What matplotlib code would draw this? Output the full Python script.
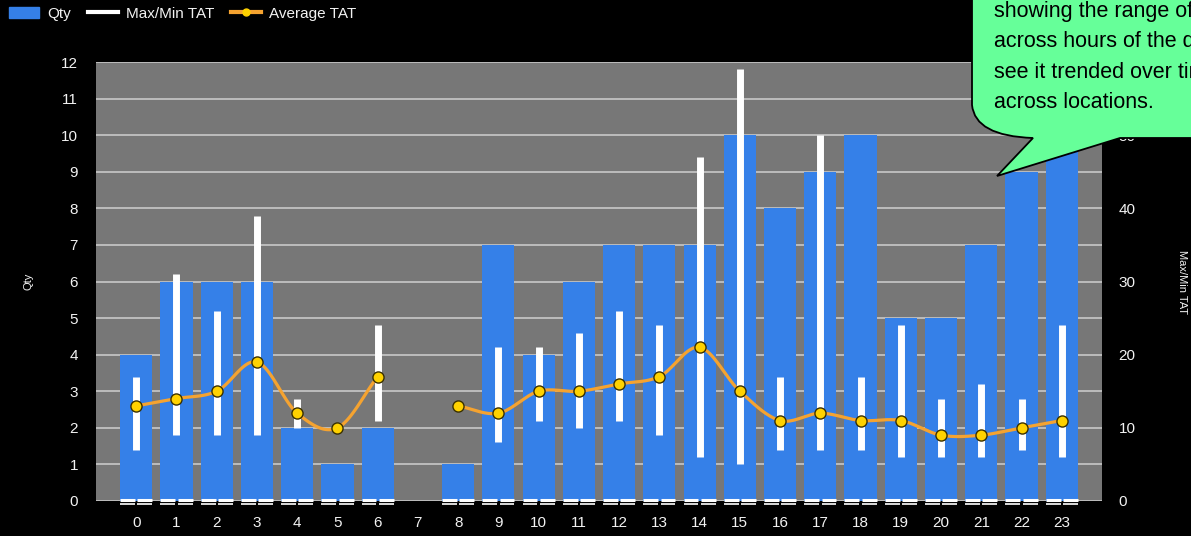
import numpy as np
import matplotlib.pyplot as plt
from matplotlib.path import Path
from matplotlib.patches import PathPatch, Patch
from matplotlib.lines import Line2D
from matplotlib.transforms import offset_copy

plt.rcParams['font.family'] = ['Liberation Sans', 'DejaVu Sans']

# datos
hours = list(range(24))
qty = [4, 6, 6, 6, 2, 1, 2, 0, 1, 7, 4, 6, 7, 7, 7, 10, 8, 9, 10, 5, 5, 7, 9, 10]
tat_max = [17, 31, 26, 39, 14, np.nan, 24, np.nan, np.nan, 21, 21, 23, 26, 24, 47, 59,
           17, 50, 17, 24, 14, 16, 14, 24]
tat_min = [7, 9, 9, 9, 10, np.nan, 11, np.nan, np.nan, 8, 11, 10, 11, 9, 6, 5,
           7, 7, 7, 6, 6, 6, 7, 6]
tat_avg = [13, 14, 15, 19, 12, 10, 17, np.nan, 13, 12, 15, 15, 16, 17, 21, 15,
           11, 12, 11, 11, 9, 9, 10, 11]
callout_lines = ["showing the range of TAT", "across hours of the day, and",
                 "see it trended over time", "across locations."]

W, H = 1191, 536
BLUE = '#3580E8'
ORANGE = '#F5A330'
TXT = '#F2F2F2'


def catmull_rom(xs, ys, n=20):
    # suavizado del trazo entre puntos consecutivos
    xs, ys = np.asarray(xs, float), np.asarray(ys, float)
    px = np.concatenate([[2 * xs[0] - xs[1]], xs, [2 * xs[-1] - xs[-2]]])
    py = np.concatenate([[2 * ys[0] - ys[1]], ys, [2 * ys[-1] - ys[-2]]])
    ox, oy = [], []
    for i in range(1, len(px) - 2):
        t = np.linspace(0, 1, n, endpoint=False)
        for p, o in ((px, ox), (py, oy)):
            p0, p1, p2, p3 = p[i - 1], p[i], p[i + 1], p[i + 2]
            o.extend(0.5 * (2 * p1 + (-p0 + p2) * t + (2 * p0 - 5 * p1 + 4 * p2 - p3) * t ** 2
                            + (-p0 + 3 * p1 - 3 * p2 + p3) * t ** 3))
    ox.append(xs[-1]); oy.append(ys[-1])
    return np.array(ox), np.array(oy)


fig = plt.figure(figsize=(W / 100, H / 100), dpi=100, facecolor='black')
ax = fig.add_axes([96 / W, 35 / H, 1006 / W, 439 / H])
ax.set_facecolor('#777777')
for s in ax.spines.values():
    s.set_visible(False)

ax.set_xlim(-1, 24)
ax.set_ylim(0, 12)
ax.set_yticks(range(13))
ax.set_xticks(hours)
ax.grid(axis='y', color='#C8C8C8', linewidth=1.2)
ax.set_axisbelow(True)
ax.tick_params(length=0, colors=TXT, labelsize=11)
ax.tick_params(axis='y', pad=13)
ax.tick_params(axis='x', pad=11)
ax.set_ylabel('Qty', color=TXT, fontsize=8, labelpad=20)

ax.bar(hours, qty, width=0.8, color=BLUE, zorder=2)

# rayas blancas en la base de cada barra
xs_b = np.array([h for h, q in zip(hours, qty) if q > 0], float)
up = offset_copy(ax.transData, fig=fig, x=0, y=1.5, units='dots')
dn = offset_copy(ax.transData, fig=fig, x=0, y=-2.5, units='dots')
for tr, lw in ((up, 2.2), (dn, 1.2)):
    ax.hlines(np.zeros(len(xs_b)), xs_b - 0.4, xs_b - 0.03, color='white', lw=lw,
              transform=tr, clip_on=False, zorder=3)
    ax.hlines(np.zeros(len(xs_b)), xs_b + 0.03, xs_b + 0.4, color='white', lw=lw,
              transform=tr, clip_on=False, zorder=3)

ax2 = ax.twinx()
for s in ax2.spines.values():
    s.set_visible(False)
ax2.set_ylim(0, 60)
ax2.set_yticks(range(0, 61, 10))
ax2.tick_params(length=0, colors=TXT, labelsize=11, pad=12)
ax2.set_ylabel('Max/Min TAT', color=TXT, fontsize=8, rotation=270, labelpad=37)

ax2.vlines(hours, tat_min, tat_max, color='white', lw=5, zorder=3)

# linea de promedio, cortada donde no hay dato
avg = np.array(tat_avg, float)
hx = np.array(hours, float)
ok = ~np.isnan(avg)
runs, cur = [], []
for i in range(len(hx)):
    if ok[i]:
        cur.append(i)
    elif cur:
        runs.append(cur); cur = []
if cur:
    runs.append(cur)
for r in runs:
    if len(r) > 1:
        cx, cy = catmull_rom(hx[r], avg[r])
        ax2.plot(cx, cy, color=ORANGE, lw=2.3, zorder=4, solid_capstyle='round')
ax2.plot(hx[ok], avg[ok], 'o', ms=8, mfc='#FFD200', mec='#3A3000', mew=1, zorder=5)

# leyenda
handles = [Patch(color=BLUE),
           Line2D([], [], color='white', lw=3),
           Line2D([], [], color=ORANGE, lw=3, marker='o', ms=5, mfc='#FFD200', mec='#FFD200')]
fig.legend(handles, ['Qty', 'Max/Min TAT', 'Average TAT'], loc='upper left',
           bbox_to_anchor=(-5 / W, 1 + 7 / H), ncol=3, frameon=False, fontsize=11,
           labelcolor=TXT, handlelength=2.0, handleheight=0.8, handletextpad=0.5,
           columnspacing=1.1)

# globo de texto
def fp(x, y):
    return (x / W, (H - y) / H)

verts = [fp(972, -10), fp(972, 105), fp(975, 136), fp(1033, 138), fp(997, 176),
         fp(1120, 138), fp(1205, 138), fp(1205, -10), fp(972, -10)]
codes = [Path.MOVETO, Path.LINETO, Path.CURVE3, Path.CURVE3, Path.LINETO,
         Path.LINETO, Path.LINETO, Path.LINETO, Path.CLOSEPOLY]
fig.patches.append(PathPatch(Path(verts, codes), transform=fig.transFigure,
                             facecolor='#66FF99', edgecolor='black', lw=1.3, zorder=10))
for i, line in enumerate(callout_lines):
    fig.text(994 / W, (H - (12 + 30 * i)) / H, line, fontsize=15.5, color='black',
             va='center', ha='left', zorder=11)

fig.savefig('out.png', dpi=100, facecolor='black')
